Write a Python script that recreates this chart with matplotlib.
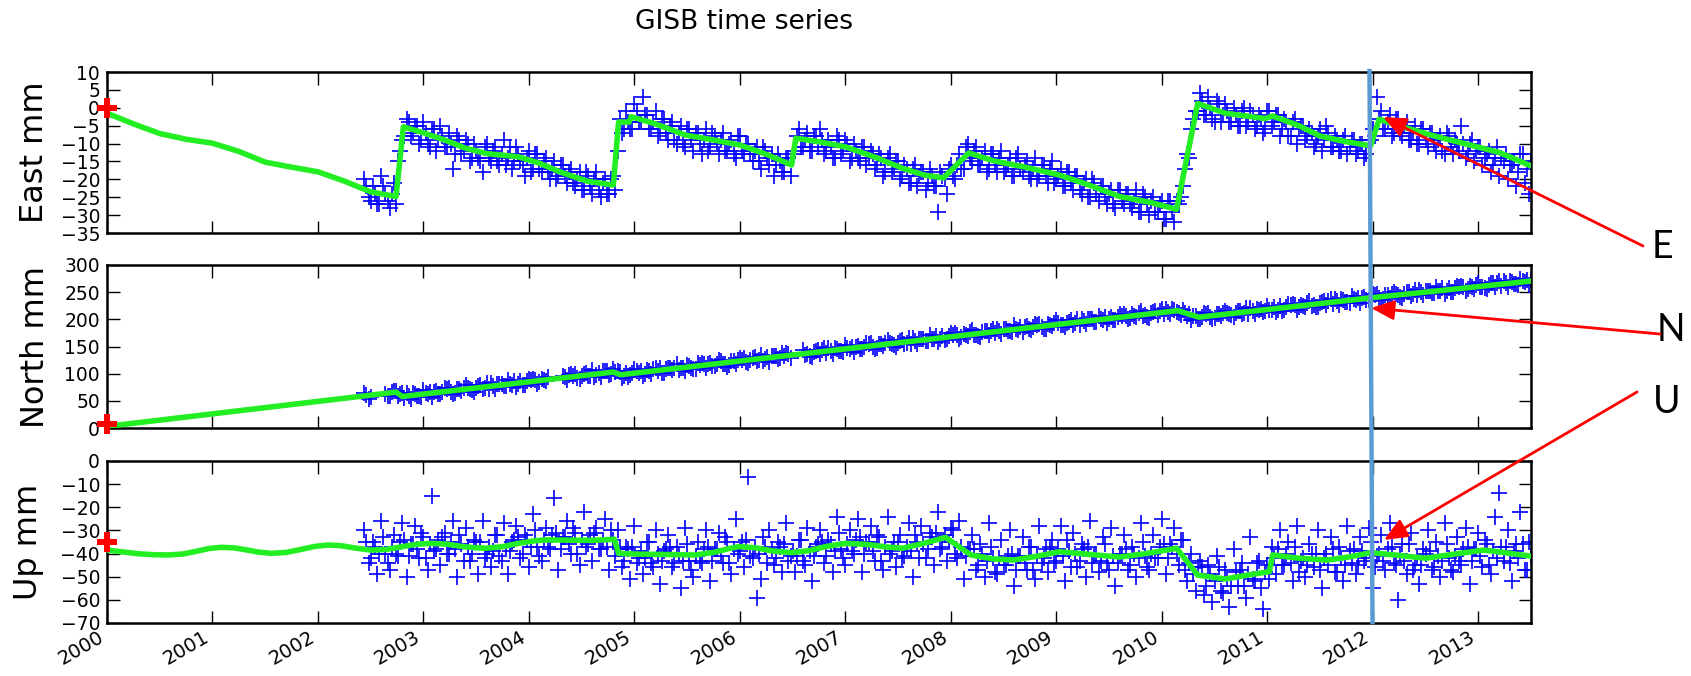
import numpy as np
import matplotlib
matplotlib.use("Agg")
import matplotlib.pyplot as plt
from matplotlib.lines import Line2D
from matplotlib.patches import FancyArrowPatch

# ---------------- data ----------------
TITLE = "GISB time series"
YEARS = list(range(2000, 2014))
YEAR_LABELS = [str(y) for y in YEARS]

# observation epochs: two interleaved regular samplings starting at OBS_START
OBS_START = 2002.44
OBS_STEP = 0.04

nan = float("nan")

east_obs = [
    -20, -25, -22, -27, -19, -24, -28, -21, -15, -9, -3, -8, -5, -10,
    -4, -10, -6, -12, -5, -11, -7, -17, -8, -13, -9, -15, -10, -14, -18, -10, -15, -11, -16, -9, -14, -17, -11, -15, -19,
    -12, -17, -13, -18, -14, -20, -15, -19, -16, -21, -17, -22, -18, -23, -19, -24, -18, -25, -20, -24, -19, -12, -7, -1, -6,
    1, -4, 3, -2, -6, -1, -7, -3, -9, -4, -10, -5, -11, -6, -12, -7, -13, -6, -11, -8, -13, -7, -12, -9, -14,
    -8, -13, -10, -15, -11, -17, -12, -16, -19, -13, -18, -14, -19, -12, -6, -11, -7, -12, -8, -6, -13, -9, -14, -8, -13,
    -9, -15, -10, -14, -11, -16, -12, -17, -13, -19, -14, -18, -15, -20, -16, -21, -17, -22, -18, -23, -17, -22, -29, -19, -24,
    -16, -20, -13, -17, -10, -15, -11, -16, -12, -17, -13, -18, -12, -17, -14, -19, -13, -18, -15, -20, -14, -19, -16, -21, -15,
    -20, -17, -22, -18, -23, -19, -24, -20, -25, -21, -26, -22, -27, -23, -28, -23, -27, -24, -28, -23, -29, -25, -30, -25, -29,
    -26, -31, -26, -32, -27, -22, -13, -6, -1, 4, -2, 3, -3, 2, -4, 1, -4, 0, -5, -1, -5, -1, -6, -2, -7,
    -1, -5, -2, -8, -3, -8, -4, -10, -5, -9, -6, -11, -8, -12, -5, -11, -8, -12, -9, -13, -9, -13, -10, -14, -9,
    -6, 3, -1, -6, -2, -7, -3, -8, -4, -9, -5, -10, -6, -11, -7, -12, -8, -13, -8, -13, -10, -5, -14, -10, -15,
    -11, -16, -13, -18, -14, -19, -15, -20, -16, -22, -13, -21, -24,
]
east_obs_b = [
    -22, -26, -24, -27, -22, -26, -24, -27, -12, -8, -4, -7, -5, -9,
    -7, -11, -6, -9, -8, -11, -10, -13, -9, -12, -10, -14, -12, -15, -11, -14, -12, -15, -13, -16, -11, -15, -13, -16, -14,
    -18, -13, -17, -15, -18, -17, -20, -16, -19, -18, -21, -20, -23, -18, -22, -20, -23, -21, -24, -20, -23, -3, -6, -4, -6,
    -1, -4, -2, -6, -4, -8, -3, -7, -5, -9, -7, -10, -6, -9, -7, -10, -9, -12, -7, -10, -9, -12, -10, -13, -8,
    -12, -10, -13, -12, -15, -11, -14, -13, -16, -15, -18, -14, -13, -8, -11, -9, -12, -8, -11, -9, -12, -11, -14, -9, -12,
    -10, -14, -12, -15, -11, -14, -13, -16, -14, -18, -13, -17, -15, -19, -17, -21, -16, -19, -18, -21, -19, -22, -18, -20, -17,
    -19, -16, -17, -11, -14, -12, -16, -14, -18, -13, -16, -14, -18, -16, -19, -14, -17, -16, -19, -17, -20, -16, -19, -17, -21,
    -19, -22, -18, -21, -19, -23, -21, -25, -20, -24, -22, -25, -24, -27, -23, -26, -24, -27, -26, -29, -24, -27, -26, -29, -27,
    -31, -26, -29, -26, -25, -17, -14, -3, -1, 2, -2, 0, -4, 1, -2, -1, -4, -2, -5, 0, -4, -2, -5, -3, -6,
    -1, -4, -2, -6, -4, -8, -3, -6, -5, -8, -7, -10, -6, -9, -7, -11, -9, -12, -8, -11, -9, -12, -10, -13, -9,
    -8, -3, -6, -4, -8, -3, -7, -5, -9, -7, -10, -6, -9, -7, -10, -9, -12, -7, -11, -9, -12, -10, -13, -9, -12,
    -11, -14, -12, -16, -11, -14, -13, -16, -15, -18, -13, -17, -15,
]

north_obs = [
    64, 54, nan, nan, nan, 63, 58, 69, 58, 64, 64, 54, 63, 59,
    70, 62, 57, 68, 62, 73, 73, 63, 72, 68, 79, 71, 66, 77, 71, 82, 82, 72, 81, 77, 88, 80, 75, 86, 80,
    91, 91, 81, 90, 86, nan, nan, nan, 95, 89, 100, 100, 90, 99, 95, 106, 98, 93, 104, 98, 109, 105, 92, 101, 97,
    108, 101, 96, 106, 100, 111, 111, 101, 110, 106, 117, 110, 104, 115, 109, 120, 120, 110, 119, 115, 126, 118, 113, 124, 118,
    129, 129, 119, 128, 124, 134, 127, 122, 133, 127, 138, 138, 128, nan, nan, 144, 136, 131, 142, 136, 147, 147, 137, 146, 142,
    153, 145, 140, 151, 145, 156, 156, 146, 155, 151, 162, 154, 149, 160, 154, 165, 165, 155, 164, 160, 171, 163, 158, 169, 163,
    174, 174, 164, 173, 169, 180, 172, 167, 178, 172, 183, 183, 173, 182, 178, 189, 181, 176, 187, 181, 192, 192, 182, 191, 187,
    198, 190, 185, 196, 190, 201, 201, 191, 200, 196, 207, 199, 194, 205, 199, 210, 210, 200, 209, 205, 216, 208, 203, 214, 208,
    219, 219, 209, 218, 212, 218, 207, 198, 207, 200, 211, 211, 201, 210, 206, 216, 209, 204, 215, 209, 220, 220, 209, 218, 214,
    225, 218, 213, 224, 218, 228, 228, 218, 227, 223, 234, 227, 222, 232, 226, 237, 237, 227, 236, 232, 243, 235, 230, 241, 235,
    246, 246, 236, 244, 240, 251, 244, 239, 250, 243, 254, 254, 244, 253, 248, 259, 252, 247, 258, 251, 262, 262, 252, 261, 256,
    267, 260, 255, 266, 260, 270, 270, 260, 269, 265, 275, 268, 263,
]
north_obs_b = [
    61, 57, nan, nan, nan, 59, 66, 69, 62, 55, 59, 64, 59, 57,
    64, 67, 67, 63, 67, 71, 66, 64, 71, 74, 74, 70, 74, 79, 74, 71, 78, 81, 81, 77, 81, 86, 81, 79, 86,
    88, 88, 84, 88, 93, nan, nan, nan, 94, 97, 96, 92, 96, 101, 96, 94, 101, 104, 104, 100, 103, 103, 96, 94, 101,
    104, 104, 100, 104, 109, 104, 101, 108, 111, 111, 107, 111, 116, 111, 109, 116, 118, 118, 114, 118, 123, 118, 116, 123, 126,
    126, 121, 125, 130, 125, 123, 130, 133, 133, 129, 133, 137, nan, nan, nan, 135, 133, 140, 143, 143, 138, 142, 147, 142, 140,
    147, 150, 150, 146, 150, 154, 149, 147, 154, 157, 157, 153, 157, 162, 157, 154, 161, 164, 164, 160, 164, 169, 164, 162, 169,
    171, 171, 167, 171, 176, 171, 169, 176, 179, 179, 174, 178, 183, 178, 176, 183, 186, 186, 182, 186, 190, 185, 183, 190, 193,
    193, 189, 193, 198, 193, 190, 197, 200, 200, 196, 200, 205, 200, 198, 205, 207, 207, 203, 207, 212, 207, 205, 212, 215, 215,
    210, 214, 219, 214, 208, 211, 210, 207, 201, 205, 210, 204, 202, 209, 212, 212, 208, 212, 216, 211, 209, 216, 219, 219, 215,
    218, 223, 218, 216, 223, 226, 226, 222, 225, 230, 225, 223, 230, 233, 233, 229, 233, 237, 232, 230, 237, 240, 240, 236, 240,
    244, 239, 237, 244, 247, 247, 242, 246, 251, 246, 244, 250, 253, 253, 249, 253, 257, 252, 250, 257, 260, 259, 255, 259, 264,
    259, 257, 263, 266, 266, 262, 266, 270, 265, 263, 270, 273, 272,
]

up_obs = [
    -30, -44, -35, -49, -26, -40, -47, -32, -41, -27, -50, -36, -28, -42,
    -33, -47, -15, -38, -45, -31, -40, -26, -50, -36, -29, -43, -34, -49, -26, -40, -46, -32, -41, -27, -49, -35, -28, -42, -32,
    -46, -23, -37, -43, -29, -38, -16, -47, -33, -26, -40, -31, -45, -22, -36, -43, -29, -38, -25, -47, -34, -30, -46, -37, -51,
    -28, -42, -49, -35, -44, -30, -53, -39, -32, -46, -37, -55, -29, -43, -50, -35, -44, -30, -52, -38, -31, -44, -35, -49, -25,
    -39, -46, -7, -42, -59, -51, -37, -30, -45, -35, -48, -27, -41, -48, -34, -43, -29, -52, -37, -30, -44, -34, -48, -24, -38,
    -45, -30, -40, -25, -48, -35, -28, -43, -33, -47, -24, -39, -46, -32, -41, -27, -50, -35, -28, -42, -31, -45, -22, -37, -43,
    -29, -40, -26, -51, -38, -32, -47, -36, -50, -27, -42, -49, -34, -45, -30, -54, -41, -33, -47, -37, -51, -28, -42, -48, -34,
    -43, -28, -52, -39, -31, -46, -36, -50, -26, -41, -48, -33, -44, -29, -54, -40, -32, -47, -37, -50, -27, -41, -47, -32, -42,
    -25, -49, -36, -29, -45, -34, -52, -40, -56, -43, -58, -45, -61, -41, -56, -47, -63, -38, -54, -44, -59, -33, -52, -43, -64,
    -45, -37, -49, -30, -45, -35, -52, -28, -43, -50, -36, -46, -30, -55, -40, -33, -48, -37, -52, -28, -44, -49, -33, -43, -29,
    -55, -41, -32, -47, -27, -44, -60, -36, -49, -31, -45, -53, -38, -30, -47, -35, -50, -27, -42, -48, -33, -45, -29, -53, -38,
    -31, -46, -36, -49, -24, -14, -43, -30, -52, -36, -22, -47, -35,
]
up_obs_b = [
    -35, -42, -37, -40, -33, -44, -37, -40, -35, -34, -41, -36, -38, -31,
    -42, -36, -39, -34, -33, -40, -35, -38, -32, -43, -37, -40, -35, -35, -42, -37, -39, -32, -43, -37, -39, -34, -33, -40, -34,
    -37, -30, -41, -34, -37, -32, -31, -38, -33, -36, -29, -40, -34, -37, -32, -31, -38, -34, -37, -30, -41, -38, -43, -38, -37,
    -44, -39, -42, -35, -46, -40, -43, -38, -37, -44, -40, -43, -36, -47, -41, -43, -38, -37, -43, -38, -41, -33, -44, -38, -40,
    -35, -34, -41, -37, -40, -33, -44, -38, -42, -37, -36, -43, -39, -41, -34, -45, -39, -41, -36, -35, -41, -36, -39, -31, -42,
    -36, -39, -34, -33, -40, -35, -39, -32, -43, -37, -40, -35, -35, -42, -37, -39, -32, -42, -36, -38, -33, -31, -38, -32, -35,
    -30, -42, -37, -41, -38, -38, -45, -40, -43, -37, -48, -42, -45, -41, -40, -47, -41, -44, -37, -47, -41, -44, -38, -37, -44,
    -38, -41, -34, -46, -40, -43, -38, -37, -44, -40, -43, -36, -47, -41, -44, -40, -38, -45, -40, -42, -35, -46, -40, -42, -37,
    -36, -42, -37, -40, -34, -47, -44, -49, -46, -46, -54, -49, -52, -46, -57, -51, -54, -48, -47, -54, -49, -51, -44, -55, -48,
    -51, -42, -38, -45, -40, -44, -37, -48, -42, -45, -40, -40, -47, -42, -45, -38, -48, -42, -45, -39, -38, -45, -39, -42, -35,
    -46, -40, -43, -38, -37, -45, -40, -43, -36, -47, -42, -45, -40, -39, -46, -41, -43, -36, -47, -41, -43, -38, -37, -43, -38,
    -41, -34, -45, -39, -42, -37, -37, -44, -39, -42, -36, -47, -41,
]

# fitted model curves (knots)
east_fit_t = [2000.0, 2000.25, 2000.5, 2000.75, 2001.0, 2001.25, 2001.5, 2001.75, 2002.0, 2002.25, 2002.5, 2002.74,
              2002.81, 2003.0, 2003.2, 2003.4, 2003.6, 2003.9, 2004.1, 2004.3, 2004.55, 2004.80, 2004.85, 2004.95,
              2004.97, 2005.2, 2005.48, 2005.75, 2006.0, 2006.25, 2006.49, 2006.53, 2006.75, 2007.0, 2007.3, 2007.55,
              2007.75, 2007.93, 2008.17, 2008.4, 2008.69, 2009.03, 2009.3, 2009.6, 2009.9, 2010.14, 2010.34, 2010.6,
              2010.98, 2011.05, 2011.3, 2011.5, 2011.75, 2011.98, 2012.06, 2012.3, 2012.6, 2012.92, 2013.2, 2013.48]
east_fit_v = [-1.5, -4.5, -7.2, -8.8, -9.9, -12.2, -15.2, -16.6, -17.9, -20.5, -23.5, -24.8,
              -5.3, -7.0, -9.0, -11.3, -12.8, -13.7, -15.5, -18.0, -20.5, -21.6, -4.0, -4.0,
              -2.5, -4.5, -7.6, -9.0, -10.4, -13.0, -16.0, -8.5, -9.5, -10.9, -14.0, -17.0,
              -18.8, -19.6, -12.6, -14.8, -16.5, -18.8, -21.5, -24.8, -26.5, -28.4, 1.2, -1.5,
              -3.0, -2.3, -5.0, -7.9, -9.5, -10.6, -3.2, -5.5, -8.0, -10.4, -12.5, -16.0]

north_fit_t = [2000.0, 2002.74, 2002.80, 2004.80, 2004.87, 2010.15, 2010.35, 2011.0, 2012.0, 2013.48]
north_fit_v = [3, 66, 58, 103, 98, 216, 204, 218, 240, 270]

up_fit_t = [2000.0, 2000.15, 2000.3, 2000.45, 2000.58, 2000.72, 2000.85, 2000.97, 2001.08, 2001.2, 2001.32,
            2001.44, 2001.56, 2001.7, 2001.84, 2001.97, 2002.1, 2002.22, 2002.35, 2002.5, 2002.65, 2002.8,
            2002.95, 2003.08, 2003.22, 2003.38, 2003.5, 2003.59, 2003.75, 2003.9, 2004.05, 2004.16, 2004.4,
            2004.6, 2004.81, 2004.85, 2005.0, 2005.3, 2005.58, 2005.75, 2005.9, 2005.99, 2006.15, 2006.3,
            2006.49, 2006.65, 2006.82, 2007.0, 2007.2, 2007.38, 2007.54, 2007.75, 2007.95, 2008.19, 2008.4,
            2008.59, 2008.8, 2009.03, 2009.3, 2009.6, 2009.85, 2010.14, 2010.34, 2010.6, 2010.8, 2011.02,
            2011.05, 2011.3, 2011.57, 2011.78, 2011.98, 2012.25, 2012.5, 2012.75, 2013.05, 2013.25, 2013.48]
up_fit_v = [-38.5, -39.3, -40.1, -40.5, -40.6, -40.2, -39.0, -37.8, -37.3, -37.5, -38.4,
            -39.4, -39.9, -39.5, -38.2, -36.9, -36.3, -36.6, -37.6, -38.5, -38.2, -37.0,
            -35.9, -35.6, -35.9, -37.0, -37.5, -37.7, -37.0, -35.6, -34.5, -34.1, -34.2,
            -34.3, -33.8, -39.9, -40.2, -40.4, -40.6, -39.5, -37.8, -37.0, -37.5, -38.8,
            -39.6, -38.8, -36.9, -35.6, -36.0, -37.1, -37.7, -35.5, -33.0, -40.6, -42.3,
            -42.8, -41.3, -39.2, -40.3, -41.5, -40.0, -37.7, -49.3, -51.0, -49.4, -47.8,
            -40.6, -42.0, -42.8, -41.4, -39.6, -40.8, -42.0, -40.4, -38.5, -39.6, -41.0]

# reference (first-epoch) position markers
ref_t = 2000.0
east_ref = 0
north_ref = 8
up_ref = -35

panels = [
    dict(label="East mm", obs=[east_obs, east_obs_b], ft=east_fit_t, fv=east_fit_v, ref=east_ref,
         ylim=(-35, 10), yticks=list(range(-35, 11, 5)), lab_x=-0.040),
    dict(label="North mm", obs=[north_obs, north_obs_b], ft=north_fit_t, fv=north_fit_v, ref=north_ref,
         ylim=(0, 300), yticks=list(range(0, 301, 50)), lab_x=-0.039),
    dict(label="Up mm", obs=[up_obs, up_obs_b], ft=up_fit_t, fv=up_fit_v, ref=up_ref,
         ylim=(-70, 0), yticks=list(range(-70, 1, 10)), lab_x=-0.044),
]

# ---------------- figure ----------------
W, H = 1691, 676
plt.rcParams["font.family"] = ["DejaVu Sans"]
fig = plt.figure(figsize=(W / 100, H / 100), dpi=100)

def fx(px):
    return px / W

def fy(py):
    return 1 - py / H

left, right = 107, 1531
boxes = [(72, 233), (265, 428), (461, 623)]

axes = []
for (top, bot), p in zip(boxes, panels):
    ax = fig.add_axes([fx(left), fy(bot), fx(right) - fx(left), fy(top) - fy(bot)])
    for k, series in enumerate(p["obs"]):
        obs = np.array(series, dtype=float)
        t = OBS_START + OBS_STEP * (np.arange(len(obs)) + 0.5 * k)
        ax.plot(t, obs, linestyle="none", marker="+", color="#0000ff",
                markersize=11.5, markeredgewidth=1.2, zorder=2)
    ax.plot(p["ft"], p["fv"], color="#22ee22", lw=4, zorder=3, solid_joinstyle="round")
    ax.plot([ref_t], [p["ref"]], marker="P", color="red", markersize=15,
            markeredgewidth=0, linestyle="none", clip_on=False, zorder=4)
    ax.set_xlim(2000, 2013.5)
    ax.set_ylim(*p["ylim"])
    ax.set_yticks(p["yticks"])
    ax.set_xticks(YEARS)
    ax.tick_params(direction="in", top=True, right=True, length=9, width=1,
                   labelsize=13.5, pad=5)
    for s in ax.spines.values():
        s.set_linewidth(1.8)
    ax.set_ylabel(p["label"], fontsize=23)
    ax.yaxis.set_label_coords(p["lab_x"], 0.5)
    axes.append(ax)

for ax in axes[:-1]:
    ax.set_xticklabels([])
axes[-1].set_xticklabels(YEAR_LABELS, rotation=30, ha="right", fontsize=14)
axes[-1].tick_params(axis="x", pad=3)

fig.text(fx(744), fy(22), TITLE, ha="center", va="center", fontsize=19)

# vertical marker line (2012 event)
fig.add_artist(Line2D([fx(1369.5), fx(1372.5)], [fy(71), fy(622)], color="#5b9bd5",
                      lw=3.2, transform=fig.transFigure, zorder=5))

# E / N / U arrows and labels
arrows = [("E", (1643, 246), (1383, 117), (1662, 247)),
          ("N", (1660, 334), (1371, 308), (1671, 330)),
          ("U", (1637, 392), (1384, 540), (1667, 402))]
for lab, tail, tip, pos in arrows:
    fig.add_artist(FancyArrowPatch((fx(tail[0]), fy(tail[1])), (fx(tip[0]), fy(tip[1])),
                                   transform=fig.transFigure, arrowstyle="-|>,head_length=0.7,head_width=0.3",
                                   mutation_scale=20, color="red", lw=2, shrinkA=0, shrinkB=0, zorder=6))
    fig.text(fx(pos[0]), fy(pos[1]), lab, ha="center", va="center", fontsize=27,
             family=["Lato", "DejaVu Sans"])

fig.savefig("out.png", dpi=100)
